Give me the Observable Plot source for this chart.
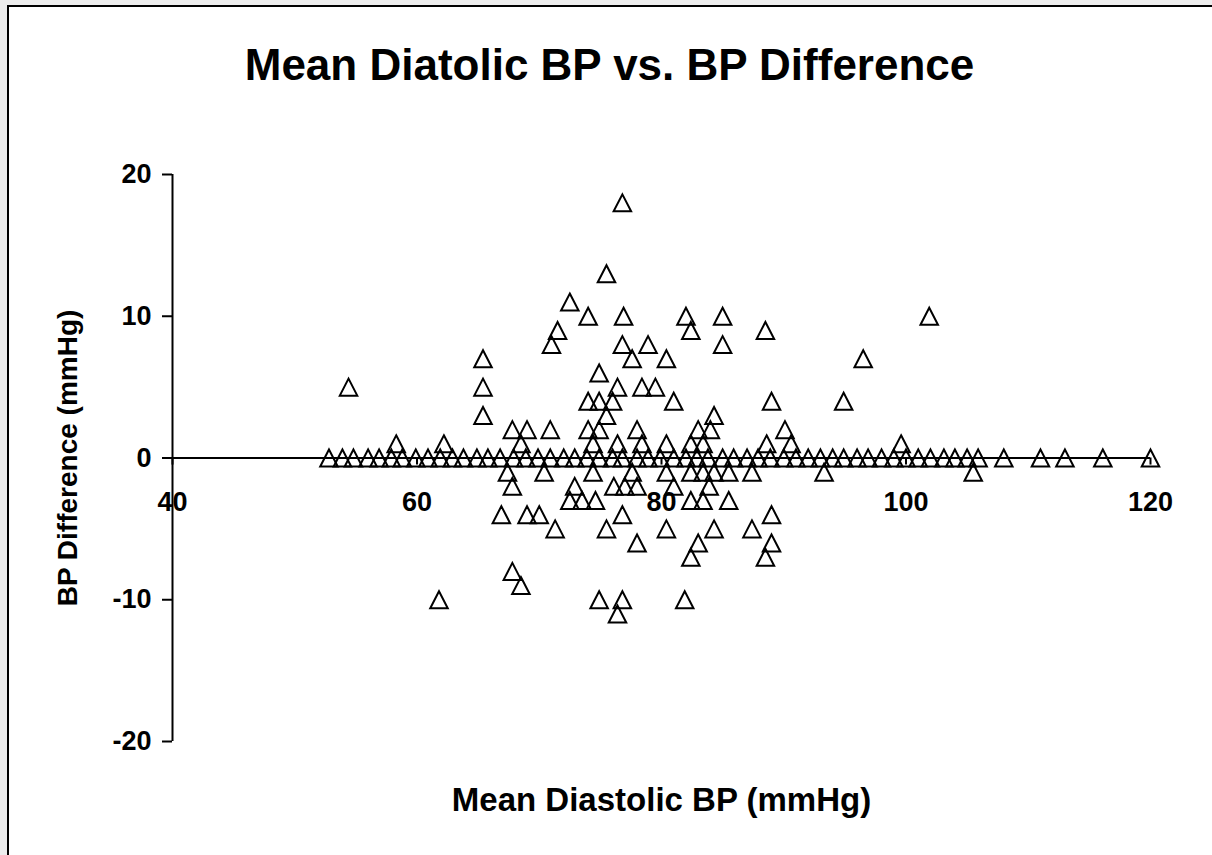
<!DOCTYPE html>
<html>
<head>
<meta charset="utf-8">
<script src="https://cdn.jsdelivr.net/npm/d3@7"></script>
<script src="https://cdn.jsdelivr.net/npm/@observablehq/plot@0.6"></script>
<style>
  html, body { margin: 0; padding: 0; width: 1212px; height: 855px; overflow: hidden; background: #ededed; }
  #frame { position: absolute; left: 7px; top: 5px; width: 1300px; height: 1000px; background: #fff; border: 2px solid #000; box-sizing: border-box; }
  #chart { position: absolute; left: 0; top: 0; }
</style>
</head>
<body>
<div id="frame"></div>
<div id="chart"></div>
<script>
// ---- data ----
const chartTitle = ["Mean Diatolic BP vs. BP Difference"];
const xTitle = ["Mean Diastolic BP (mmHg)"];
const yTitle = ["BP Difference (mmHg)"];
const xTicks = [40, 60, 80, 100, 120];
const yTicks = [-20, -10, 0, 10, 20];

// BP difference levels and the mean diastolic BP values observed at each level
const diffLevels = [18, 13, 11, 10, 9, 8, 7, 6, 5, 4, 3, 2, 1, 0, -1, -2, -3, -4, -5, -6, -7, -8, -9, -10, -11];
const meansAtLevel = [
  [76.8],
  [75.5],
  [72.5],
  [74.0, 76.9, 82.0, 85.0, 101.9],
  [71.5, 82.4, 88.5],
  [71.0, 76.8, 78.9, 85.0],
  [65.4, 77.6, 80.4, 96.5],
  [74.9],
  [54.4, 65.4, 76.4, 78.4, 79.5],
  [74.0, 74.9, 76.0, 81.0, 89.0, 94.9],
  [65.4, 75.5, 84.3],
  [67.8, 69.0, 70.9, 74.0, 74.9, 78.0, 83.0, 84.0, 90.1],
  [58.3, 62.2, 68.5, 74.4, 76.4, 78.4, 80.4, 82.4, 83.4, 88.6, 90.6, 99.6],
  [52.8, 53.9, 54.8, 56.0, 56.9, 57.9, 58.8, 59.9, 60.9, 61.9, 62.9, 63.8, 64.9, 65.8, 66.8, 67.9,
   68.9, 69.9, 70.9, 72.0, 72.9, 73.9, 74.9, 76.0, 76.8, 78.0, 78.9, 79.9, 81.0, 82.0, 82.9, 83.8,
   85.0, 85.9, 87.0, 87.9, 88.9, 90.0, 91.0, 92.0, 93.0, 94.0, 94.9, 96.0, 96.9, 98.0, 99.0, 100.0,
   101.0, 102.0, 103.1, 104.0, 105.0, 105.9, 108.0, 111.0, 113.0, 116.1, 120.0],
  [67.4, 70.4, 74.4, 77.6, 80.4, 82.4, 83.4, 84.3, 85.5, 87.4, 93.3, 105.5],
  [67.8, 72.9, 76.1, 77.0, 78.0, 81.0, 83.9],
  [72.5, 73.5, 74.6, 82.4, 83.4, 85.5],
  [66.9, 69.0, 70.0, 76.8, 89.0],
  [71.3, 75.5, 80.4, 84.3, 87.4],
  [78.0, 83.0, 89.0],
  [82.4, 88.5],
  [67.8],
  [68.5],
  [61.8, 74.9, 76.8, 81.9],
  [76.4]
];

const points = diffLevels.flatMap((d, i) => meansAtLevel[i].map(m => ({mean: m, diff: d})));

// Excel-style open triangle marker, centred on its bounding box
const excelTriangle = {
  draw(context, size) {
    const r = Math.sqrt(size / Math.PI);
    const hw = r * 1.03, hh = r;
    context.moveTo(0, -hh);
    context.lineTo(hw, hh);
    context.lineTo(-hw, hh);
    context.closePath();
  }
};

const font = "'Liberation Sans', Arial, Helvetica, sans-serif";

const chart = Plot.plot({
  width: 1212,
  height: 855,
  marginLeft: 172,
  marginRight: 62,
  marginTop: 174,
  marginBottom: 114,
  style: {background: "transparent", fontFamily: font, color: "#000"},
  x: {domain: [40, 120], axis: null},
  y: {domain: [-20, 20], axis: null},
  marks: [
    Plot.axisY(yTicks, {
      anchor: "left", tickSize: 10, tickPadding: 11, strokeWidth: 2,
      tickFormat: d => String(d), fontSize: 27, fontWeight: "bold", label: null
    }),
    Plot.ruleX([40], {stroke: "#000", strokeWidth: 2}),
    Plot.ruleY([0], {stroke: "#000", strokeWidth: 2}),
    Plot.ruleX(xTicks, {x: d => d, y1: 0, y2: -0.5, stroke: "#000", strokeWidth: 2}),
    Plot.text(xTicks, {x: d => d, y: 0, dy: 44, text: d => String(d), fontSize: 27, fontWeight: "bold", fill: "#000"}),
    Plot.dot(points, {x: "mean", y: "diff", symbol: excelTriangle, r: 8.5, fill: "none", stroke: "#000", strokeWidth: 2}),
    Plot.text(chartTitle, {frameAnchor: "top", dx: -52, dy: -126, fontSize: 44, fontWeight: "bold", fill: "#000"}),
    Plot.text(xTitle, {frameAnchor: "bottom", dy: 69, fontSize: 33, fontWeight: "bold", fill: "#000"}),
    Plot.text(yTitle, {frameAnchor: "left", dx: -104, rotate: -90, textAnchor: "middle", fontSize: 28, fontWeight: "bold", fill: "#000"})
  ]
});
document.getElementById("chart").appendChild(chart);
</script>
</body>
</html>
